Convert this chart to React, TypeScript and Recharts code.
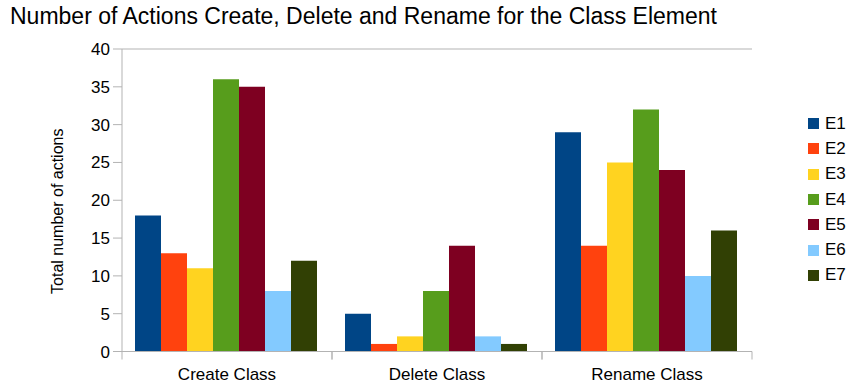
import React from 'react';
import { BarChart, Bar, XAxis, YAxis, CartesianGrid, Legend } from 'recharts';

const categories = ['Create Class', 'Delete Class', 'Rename Class'];
const seriesNames = ['E1', 'E2', 'E3', 'E4', 'E5', 'E6', 'E7'];
const seriesColors = ['#004586', '#ff420e', '#ffd320', '#579d1c', '#7e0021', '#83caff', '#314004'];
const E1 = [18, 5, 29];
const E2 = [13, 1, 14];
const E3 = [11, 2, 25];
const E4 = [36, 8, 32];
const E5 = [35, 14, 24];
const E6 = [8, 2, 10];
const E7 = [12, 1, 16];
const seriesValues = [E1, E2, E3, E4, E5, E6, E7];
const yTicks = [0, 5, 10, 15, 20, 25, 30, 35, 40];

const title = 'Number of Actions Create, Delete and Rename for the Class Element';
const yLabel = 'Total number of actions';

const data = categories.map((c, i) => {
  const row: Record<string, string | number> = { name: c };
  seriesNames.forEach((s, j) => {
    row[s] = seriesValues[j][i];
  });
  return row;
});

const GRID = '#b3b3b3';
const FONT = '"Liberation Sans", Arial, sans-serif';
const X_TICK = 8;
const X_MARGIN = 7;

const CategoryTick = (props: any) => {
  const { x, y, payload } = props;
  const half = payload && typeof payload.offset === 'number' ? payload.offset : 0;
  const axisY = y - X_TICK - X_MARGIN;
  return (
    <g>
      <line x1={x - half} x2={x - half} y1={axisY} y2={axisY + X_TICK} stroke={GRID} />
      <line x1={x + half} x2={x + half} y1={axisY} y2={axisY + X_TICK} stroke={GRID} />
      <text x={x} y={axisY + 28} textAnchor="middle" fontSize={17} fontFamily={FONT} fill="#000">
        {payload.value}
      </text>
    </g>
  );
};

const LegendContent = () => (
  <div style={{ width: 96, paddingLeft: 56, boxSizing: 'border-box', fontFamily: FONT }}>
    {seriesNames.map((s, i) => (
      <div key={s} style={{ height: 25.3, display: 'flex', alignItems: 'center' }}>
        <span style={{ width: 11, height: 11, background: seriesColors[i], display: 'inline-block', marginRight: 6 }} />
        <span style={{ fontSize: 17, color: '#000' }}>{s}</span>
      </div>
    ))}
  </div>
);

export default function App() {
  return (
    <div style={{ position: 'absolute', left: 0, top: 0, width: 851, height: 385, background: '#fff' }}>
      <div
        style={{
          position: 'absolute',
          left: 10,
          top: 3,
          fontFamily: FONT,
          fontSize: 23,
          color: '#000',
          whiteSpace: 'nowrap',
        }}
      >
        {title}
      </div>
      <div style={{ position: 'absolute', left: 0, top: 0 }}>
        <BarChart
          width={851}
          height={385}
          data={data}
          margin={{ top: 49, right: 3, bottom: 3.5, left: 52 }}
          barCategoryGap={13}
          barGap={0}
        >
          <CartesianGrid horizontal vertical={false} stroke={GRID} />
          <XAxis
            dataKey="name"
            tickLine={false}
            tickSize={X_TICK}
            tickMargin={X_MARGIN}
            axisLine={{ stroke: GRID }}
            height={30}
            interval={0}
            tick={<CategoryTick />}
          />
          <YAxis
            yAxisId="l"
            domain={[0, 40]}
            ticks={yTicks}
            interval={0}
            width={70}
            tickSize={9}
            tickMargin={3}
            tickLine={{ stroke: GRID }}
            axisLine={{ stroke: GRID }}
            tick={{ fill: '#000', fontSize: 17, fontFamily: FONT }}
            label={{
              content: (props: any) => {
                const vb = props.viewBox || {};
                const cx = vb.x + 11;
                const cy = vb.y + vb.height / 2 + 11;
                return (
                  <text
                    x={cx}
                    y={cy}
                    transform={`rotate(-90 ${cx} ${cy})`}
                    textAnchor="middle"
                    fontSize={16}
                    fontFamily={FONT}
                    fill="#000"
                  >
                    {yLabel}
                  </text>
                );
              },
            }}
          />
          <YAxis
            yAxisId="r"
            orientation="right"
            domain={[0, 40]}
            width={0}
            tick={false}
            tickLine={false}
            axisLine={{ stroke: GRID }}
          />
          <Legend
            layout="vertical"
            align="right"
            verticalAlign="top"
            content={<LegendContent />}
            wrapperStyle={{ top: 111, right: 3 }}
          />
          {seriesNames.map((s, i) => (
            <Bar key={s} dataKey={s} yAxisId="l" fill={seriesColors[i]} isAnimationActive={false} />
          ))}
        </BarChart>
      </div>
    </div>
  );
}
